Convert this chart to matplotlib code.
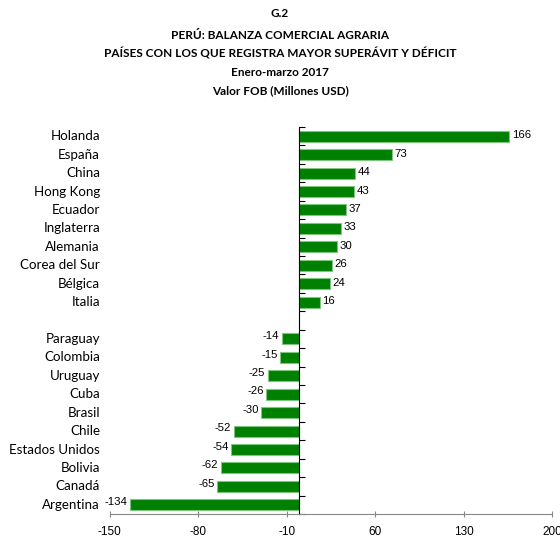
import numpy as np
import matplotlib
matplotlib.use('Agg')
import matplotlib.pyplot as plt
import matplotlib.transforms as mtransforms

paises = ['Holanda', 'España', 'China', 'Hong Kong', 'Ecuador', 'Inglaterra',
          'Alemania', 'Corea del Sur', 'Bélgica', 'Italia', '',
          'Paraguay', 'Colombia', 'Uruguay', 'Cuba', 'Brasil', 'Chile',
          'Estados Unidos', 'Bolivia', 'Canadá', 'Argentina']
valores = [166, 73, 44, 43, 37, 33, 30, 26, 24, 16, None,
           -14, -15, -25, -26, -30, -52, -54, -62, -65, -134]
xticks = [-150, -80, -10, 60, 130, 200]
titulo = ['G.2', 'PERÚ: BALANZA COMERCIAL AGRARIA',
          'PAÍSES CON LOS QUE REGISTRA MAYOR SUPERÁVIT Y DÉFICIT',
          'Enero-marzo 2017', 'Valor FOB (Millones USD)']

fig = plt.figure(figsize=(5.6, 5.37), dpi=100)
ax = fig.add_axes([0.196, 0.0428, 0.79, 0.7207])

for i, v in enumerate(valores):
    if v is None:
        continue
    ax.barh(i, v, height=0.6, color='#008000', edgecolor='#7fc47f', linewidth=0.8)
    if v > 0:
        ax.text(v + 2, i - 0.05, str(v), va='center', ha='left', fontsize=8.2,
                family='Liberation Sans')
    else:
        ax.text(v - 2, i - 0.15, str(v), va='center', ha='right', fontsize=8.2,
                family='Liberation Sans')

ax.set_xlim(-150, 200)
ax.set_ylim(len(paises) - 0.5, -0.5)
ax.set_xticks(xticks)
ax.set_xticklabels([str(t) for t in xticks], family='Liberation Sans', fontsize=8.5)

# eje vertical en cero
ax.spines['left'].set_position(('data', 0))
ax.spines['right'].set_visible(False)
ax.spines['top'].set_visible(False)
ax.spines['bottom'].set_color('#888888')
ax.set_yticks(np.arange(-0.5, len(paises), 1))
ax.set_yticklabels([])
ax.tick_params(axis='y', direction='in', length=4, width=0.8)
ax.tick_params(axis='x', direction='inout', length=5, color='#888888', pad=6)

trans = mtransforms.blended_transform_factory(ax.transAxes, ax.transData)
for i, p in enumerate(paises):
    ax.text(-0.022, i, p, transform=trans, ha='right', va='center',
            fontsize=9.6, family='Lato')

ys = [0.974, 0.934, 0.900, 0.865, 0.831]
for t, y in zip(titulo, ys):
    fig.text(0.5, y, t, ha='center', va='center', fontsize=8.5,
             fontweight='bold', family='Lato')

fig.savefig('out.png', dpi=100)
